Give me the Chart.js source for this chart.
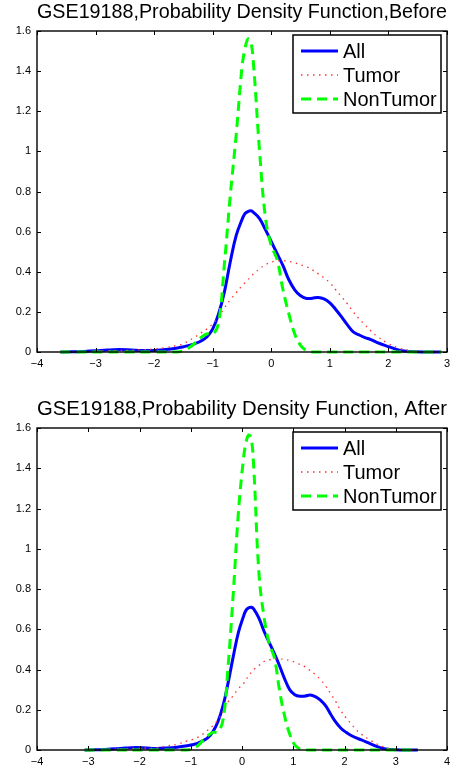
<!DOCTYPE html>
<html>
<head>
<meta charset="utf-8">
<script src="https://cdn.jsdelivr.net/npm/chart.js@4.4.0/dist/chart.umd.min.js"></script>
<style>
  html, body { margin: 0; padding: 0; background: #fff; }
  body { width: 458px; height: 767px; position: relative; overflow: hidden; }
  .box { position: absolute; left: 0; width: 458px; }
</style>
</head>
<body>
<div class="box" style="top:0;height:380px"><canvas id="beforeChart"></canvas></div>
<div class="box" style="top:397px;height:370px"><canvas id="afterChart"></canvas></div>
<script>
const seriesNames = ['All', 'Tumor', 'NonTumor'];

// Before normalisation
const beforeX = [-3.6, -3.4, -3.2, -3.0, -2.8, -2.6, -2.4, -2.2, -2.0, -1.8, -1.6,
    -1.5, -1.4, -1.3, -1.2, -1.1, -1.0, -0.9, -0.8, -0.7, -0.6, -0.5,
    -0.45, -0.4, -0.35, -0.3,
    -0.2, -0.1, 0, 0.1, 0.2, 0.3, 0.4, 0.5, 0.6, 0.7, 0.8, 0.9, 1.0, 1.1, 1.2, 1.3, 1.4, 1.5, 1.6, 1.7, 1.8,
    2.0, 2.2, 2.4, 2.6, 2.8, 2.9];
const beforeAll = [0, 0.001, 0.003, 0.006, 0.010, 0.012, 0.010, 0.007, 0.008, 0.012, 0.020,
    0.026, 0.033, 0.042, 0.055, 0.075, 0.115, 0.19, 0.30, 0.45, 0.58, 0.66,
    0.69, 0.70, 0.704, 0.695,
    0.665, 0.61, 0.55, 0.49, 0.43, 0.36, 0.31, 0.28, 0.267, 0.268, 0.272, 0.265, 0.245, 0.212, 0.175, 0.135, 0.10, 0.085, 0.072, 0.062, 0.048,
    0.027, 0.008, 0.002, 0, 0, 0];
const beforeTumor = [0, 0.001, 0.002, 0.004, 0.006, 0.008, 0.009, 0.011, 0.015, 0.022, 0.034,
    0.042, 0.058, 0.075, 0.095, 0.115, 0.14, 0.175, 0.22, 0.26, 0.295, 0.33,
    0.345, 0.36, 0.375, 0.39,
    0.415, 0.435, 0.448, 0.454, 0.455, 0.452, 0.445, 0.435, 0.425, 0.41, 0.39, 0.37, 0.345, 0.31, 0.275, 0.24, 0.20, 0.165, 0.135, 0.105, 0.08,
    0.042, 0.018, 0.006, 0.002, 0, 0];
const beforeNonTumor = [0, 0, 0, 0, 0, 0, 0, 0, 0, 0, 0,
    0.008, 0.022, 0.045, 0.072, 0.09, 0.088, 0.145, 0.44, 0.78, 1.08, 1.42,
    1.51, 1.56, 1.55, 1.42,
    1.0, 0.67, 0.53, 0.46, 0.31, 0.19, 0.09, 0.033, 0.007, 0, 0, 0, 0, 0, 0, 0, 0, 0, 0, 0, 0,
    0, 0, 0, 0, 0, 0];

// After normalisation
const afterX = [-3.07, -2.87, -2.67, -2.47, -2.27, -2.07, -1.87, -1.67, -1.47, -1.27, -1.07,
    -0.97, -0.87, -0.77, -0.67, -0.57, -0.47, -0.37, -0.27, -0.17, -0.07, 0.03,
    0.08, 0.13, 0.18, 0.23,
    0.33, 0.43, 0.53, 0.63, 0.73, 0.83, 0.93, 1.03, 1.13, 1.23, 1.33, 1.43, 1.53, 1.63, 1.73, 1.83, 1.93, 2.03, 2.13, 2.23, 2.33,
    2.53, 2.73, 2.93, 3.13, 3.33, 3.43];
const afterAll = [0, 0.001, 0.003, 0.006, 0.010, 0.012, 0.010, 0.008, 0.010, 0.014, 0.021,
    0.026, 0.033, 0.045, 0.06, 0.09, 0.14, 0.22, 0.335, 0.465, 0.585, 0.665,
    0.695, 0.706, 0.709, 0.70,
    0.655, 0.59, 0.535, 0.48, 0.42, 0.355, 0.30, 0.275, 0.267, 0.268, 0.273, 0.265, 0.248, 0.22, 0.178, 0.138, 0.108, 0.088, 0.072, 0.06, 0.05,
    0.028, 0.009, 0.002, 0, 0, 0];
const afterTumor = [0, 0.001, 0.002, 0.004, 0.006, 0.008, 0.009, 0.011, 0.02, 0.028, 0.045,
    0.052, 0.062, 0.078, 0.098, 0.12, 0.15, 0.19, 0.24, 0.27, 0.305, 0.33,
    0.35, 0.37, 0.385, 0.40,
    0.42, 0.44, 0.448, 0.452, 0.452, 0.45, 0.445, 0.436, 0.425, 0.413, 0.395, 0.375, 0.35, 0.32, 0.28, 0.24, 0.195, 0.16, 0.13, 0.10, 0.078,
    0.045, 0.018, 0.005, 0.001, 0, 0];
const afterNonTumor = [0, 0, 0, 0, 0, 0, 0, 0, 0, 0, 0,
    0.006, 0.02, 0.045, 0.07, 0.088, 0.09, 0.15, 0.42, 0.78, 1.18, 1.45,
    1.53, 1.565, 1.55, 1.40,
    0.88, 0.66, 0.53, 0.46, 0.30, 0.17, 0.08, 0.025, 0.005, 0, 0, 0, 0, 0, 0, 0, 0, 0, 0, 0, 0,
    0, 0, 0, 0, 0, 0];

const yTicksMax = 1.6;
const fontFamily = '"Liberation Sans", Arial, Helvetica, sans-serif';

// axes box with inward tick marks, like matlab
const matlabFrame = {
    id: 'matlabFrame',
    afterDraw(chart) {
        const {ctx, chartArea: a, scales} = chart;
        ctx.save();
        ctx.strokeStyle = '#000';
        ctx.lineWidth = 1;
        scales.x.ticks.forEach(t => {
            const px = Math.round(scales.x.getPixelForValue(t.value)) + 0.5;
            ctx.beginPath();
            ctx.moveTo(px, a.bottom); ctx.lineTo(px, a.bottom - 4);
            ctx.moveTo(px, a.top); ctx.lineTo(px, a.top + 4);
            ctx.stroke();
        });
        scales.y.ticks.forEach(t => {
            const py = Math.round(scales.y.getPixelForValue(t.value)) + 0.5;
            ctx.beginPath();
            ctx.moveTo(a.left, py); ctx.lineTo(a.left + 4, py);
            ctx.moveTo(a.right, py); ctx.lineTo(a.right - 4, py);
            ctx.stroke();
        });
        ctx.lineWidth = 1.4;
        ctx.strokeRect(a.left, a.top, a.right - a.left, a.bottom - a.top);
        ctx.restore();
    }
};

const legendBox = {
    id: 'legendBox',
    afterDraw(chart) {
        const {ctx, chartArea} = chart;
        const w = 148, h = 78;
        const left = chartArea.right - 6 - w, top = chartArea.top + 4;
        ctx.save();
        ctx.fillStyle = '#fff';
        ctx.fillRect(left, top, w, h);
        ctx.strokeStyle = '#000';
        ctx.lineWidth = 1.5;
        ctx.strokeRect(left, top, w, h);
        chart.data.datasets.forEach((ds, i) => {
            const y = top + 16 + i * 24;
            ctx.beginPath();
            ctx.setLineDash(ds.borderDash || []);
            ctx.strokeStyle = ds.borderColor;
            ctx.lineWidth = ds.borderWidth;
            ctx.moveTo(left + 8, y);
            ctx.lineTo(left + 45, y);
            ctx.stroke();
            ctx.setLineDash([]);
            ctx.fillStyle = '#000';
            ctx.font = '20px ' + fontFamily;
            ctx.textBaseline = 'middle';
            ctx.fillText(ds.label, left + 50, y + 1);
        });
        ctx.restore();
    }
};

function toPoints(xs, ys) {
    return xs.map((x, i) => ({x: x, y: ys[i]}));
}

function createDensityChart(canvasId, title, xs, all, tumor, nonTumor, xMin, xMax, xAxisHeight) {
    const ctx = document.getElementById(canvasId);
    new Chart(ctx, {
        type: 'line',
        data: {
            datasets: [{
                label: seriesNames[0],
                data: toPoints(xs, all),
                borderColor: '#0000ff',
                borderWidth: 3,
                order: 2
            }, {
                label: seriesNames[1],
                data: toPoints(xs, tumor),
                borderColor: '#ff3030',
                borderWidth: 1.3,
                borderDash: [1.5, 4.5],
                order: 1
            }, {
                label: seriesNames[2],
                data: toPoints(xs, nonTumor),
                borderColor: '#00ff00',
                borderWidth: 3,
                borderDash: [10, 6],
                order: 0
            }]
        },
        options: {
            responsive: true,
            maintainAspectRatio: false,
            animation: false,
            layout: { padding: { left: 0, right: 11, top: 0, bottom: 0 } },
            elements: {
                point: { radius: 0 },
                line: { tension: 0.4, fill: false }
            },
            datasets: { line: { clip: 4 } },
            scales: {
                x: {
                    type: 'linear',
                    min: xMin,
                    max: xMax,
                    grid: { display: false, drawTicks: false },
                    border: { display: false },
                    ticks: {
                        stepSize: 1,
                        padding: 5,
                        color: '#000',
                        font: { family: fontFamily, size: 11 },
                        maxRotation: 0,
                        callback: v => String(v).replace('-', '\u2212')
                    },
                    afterFit(scale) { scale.height = xAxisHeight; }
                },
                y: {
                    min: 0,
                    max: yTicksMax,
                    grid: { display: false, drawTicks: false },
                    border: { display: false },
                    ticks: {
                        stepSize: 0.2,
                        padding: 6,
                        color: '#000',
                        font: { family: fontFamily, size: 11 },
                        callback: v => String(Number(v.toFixed(1)))
                    },
                    afterFit(scale) { scale.width = 37; }
                }
            },
            plugins: {
                legend: { display: false },
                tooltip: { enabled: false },
                title: {
                    display: true,
                    text: title,
                    fullSize: false,
                    color: '#000',
                    font: { family: fontFamily, size: 20.5, weight: 'normal', lineHeight: 1.2 },
                    padding: { top: 0, bottom: 6.4 }
                }
            }
        },
        plugins: [matlabFrame, legendBox]
    });
}

window.addEventListener('load', function () {
    createDensityChart('beforeChart', 'GSE19188,Probability Density Function,Before',
        beforeX, beforeAll, beforeTumor, beforeNonTumor, -4, 3, 28);
    createDensityChart('afterChart', 'GSE19188,Probability Density Function, After',
        afterX, afterAll, afterTumor, afterNonTumor, -4, 4, 17);
});
</script>
</body>
</html>
